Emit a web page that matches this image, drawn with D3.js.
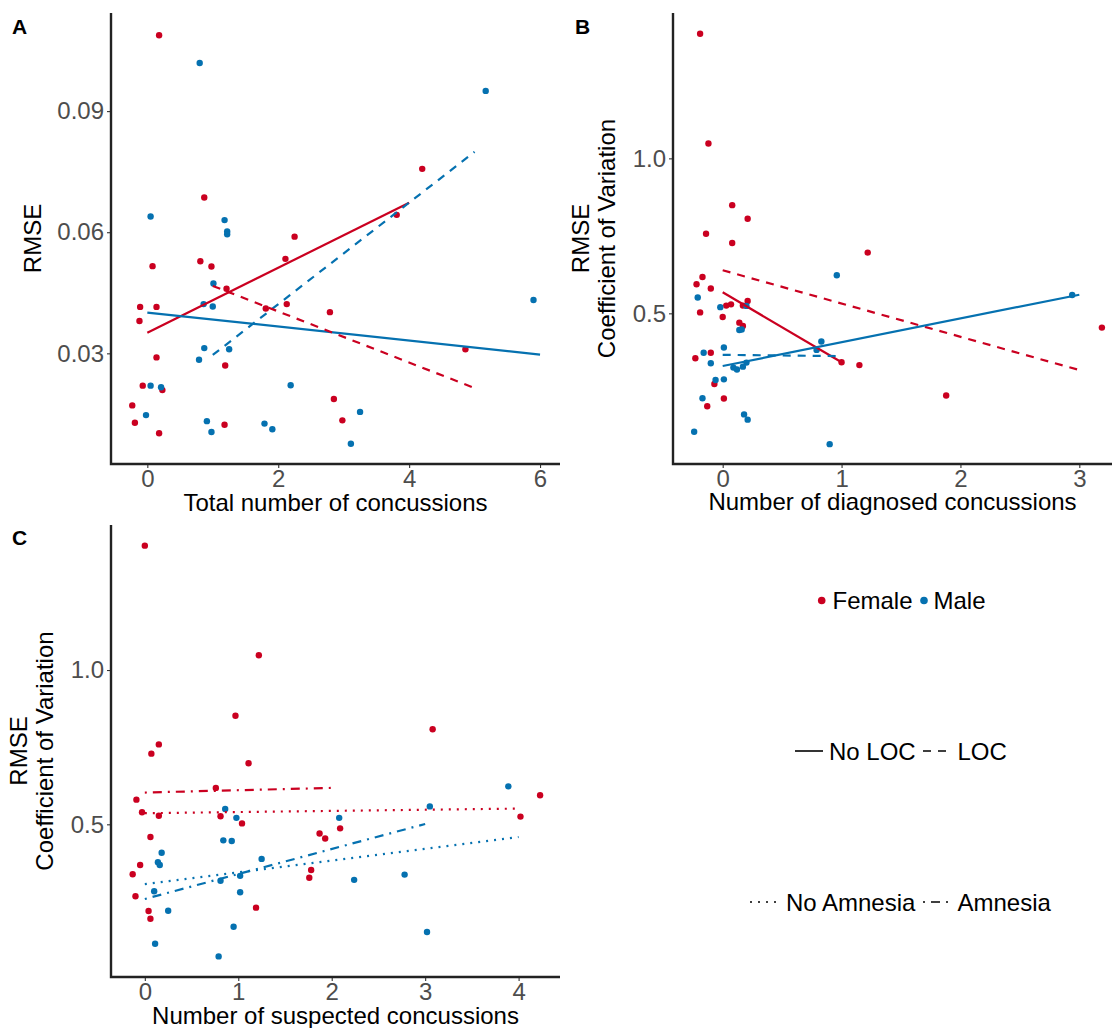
<!DOCTYPE html>
<html>
<head>
<meta charset="utf-8">
<script src="https://cdn.jsdelivr.net/npm/d3@7"></script>
<style>
  body { margin: 0; background: #fff; }
  svg text { font-family: "Liberation Sans", Arial, sans-serif; }
</style>
</head>
<body>
<svg id="fig" width="1112" height="1028"></svg>
<script>
// ---- colours ----
const SEX_COLOR = { Female: "#CA0020", Male: "#0571B0" };

// ---- Panel A: RMSE vs total number of concussions ----
const A_FEMALE = [
  [0.18, 0.1088], [0.87, 0.0686], [4.20, 0.0757], [3.81, 0.0643], [2.25, 0.0589],
  [2.11, 0.0534], [0.81, 0.0528], [0.08, 0.0516], [0.98, 0.0515], [1.21, 0.0460],
  [-0.11, 0.0415], [0.14, 0.0415], [1.81, 0.0411], [2.13, 0.0422], [2.79, 0.0402],
  [-0.12, 0.0380], [0.14, 0.0290], [4.86, 0.0310], [1.19, 0.0270], [-0.07, 0.0220],
  [0.23, 0.0209], [-0.23, 0.0171], [2.85, 0.0187], [-0.19, 0.0128], [2.98, 0.0134],
  [1.18, 0.0123], [0.18, 0.0102]
];
const A_MALE = [
  [0.80, 0.1019], [5.17, 0.0950], [0.05, 0.0639], [1.18, 0.0630], [1.22, 0.0602],
  [1.22, 0.0595], [1.01, 0.0473], [0.86, 0.0422], [1.00, 0.0416], [5.90, 0.0432],
  [0.87, 0.0313], [1.25, 0.0310], [0.79, 0.0284], [0.05, 0.0220], [0.21, 0.0216],
  [2.19, 0.0221], [-0.02, 0.0147], [3.25, 0.0155], [0.91, 0.0132], [0.98, 0.0105],
  [1.79, 0.0126], [1.91, 0.0112], [3.11, 0.0076]
];
const A_FITS = [
  { sex: "Female", type: "solid",  x: [0, 4], y: [0.0351, 0.0673] },
  { sex: "Male",   type: "solid",  x: [0, 6], y: [0.0401, 0.0297] },
  { sex: "Male",   type: "dashed", x: [1, 5], y: [0.0296, 0.0799] },
  { sex: "Female", type: "dashed", x: [1, 5], y: [0.0467, 0.0214] }
];
const A_XTICKS = [0, 2, 4, 6];
const A_YTICKS = [0.03, 0.06, 0.09];

// ---- Panel B: CV vs diagnosed concussions ----
const B_FEMALE = [
  [-0.19, 1.402], [-0.12, 1.048], [-0.14, 0.757], [0.08, 0.849], [0.21, 0.805],
  [0.08, 0.727], [1.22, 0.696], [-0.17, 0.617], [-0.22, 0.594], [-0.10, 0.580],
  [0.21, 0.540], [0.03, 0.525], [0.07, 0.529], [0.17, 0.525], [-0.19, 0.503],
  [0.00, 0.488], [0.14, 0.470], [0.17, 0.459], [3.19, 0.454], [-0.10, 0.373],
  [-0.23, 0.355], [1.00, 0.342], [1.15, 0.333], [-0.07, 0.272], [0.01, 0.225],
  [1.88, 0.235], [-0.13, 0.200]
];
const B_MALE = [
  [0.96, 0.623], [-0.21, 0.551], [2.94, 0.559], [-0.02, 0.520], [0.20, 0.524],
  [0.16, 0.448], [0.14, 0.446], [0.83, 0.409], [0.01, 0.390], [-0.16, 0.373],
  [0.79, 0.382], [-0.10, 0.339], [0.20, 0.341], [0.09, 0.325], [0.12, 0.319],
  [0.17, 0.328], [0.01, 0.287], [-0.06, 0.285], [-0.17, 0.226], [0.18, 0.174],
  [0.21, 0.157], [-0.24, 0.118], [0.90, 0.078]
];
const B_FITS = [
  { sex: "Female", type: "solid",  x: [0, 1], y: [0.568, 0.342] },
  { sex: "Female", type: "dashed", x: [0, 3], y: [0.639, 0.317] },
  { sex: "Male",   type: "solid",  x: [0, 3], y: [0.330, 0.560] },
  { sex: "Male",   type: "dashed", x: [0, 1], y: [0.366, 0.362] }
];
const B_XTICKS = [0, 1, 2, 3];
const B_YTICKS = [0.5, 1.0];

// ---- Panel C: CV vs suspected concussions ----
const C_FEMALE = [
  [0.00, 1.403], [1.22, 1.048], [0.97, 0.852], [3.08, 0.808], [0.15, 0.759],
  [0.07, 0.729], [1.11, 0.698], [0.76, 0.618], [4.23, 0.594], [-0.09, 0.580],
  [-0.03, 0.539], [0.15, 0.528], [0.81, 0.526], [4.02, 0.525], [1.04, 0.503],
  [2.09, 0.487], [1.87, 0.470], [1.93, 0.454], [0.06, 0.459], [-0.05, 0.368],
  [-0.13, 0.338], [1.78, 0.352], [1.76, 0.327], [-0.10, 0.267], [1.19, 0.230],
  [0.04, 0.219], [0.06, 0.194]
];
const C_MALE = [
  [3.89, 0.623], [3.05, 0.558], [0.86, 0.550], [0.98, 0.521], [2.08, 0.521],
  [0.84, 0.448], [0.93, 0.446], [0.18, 0.408], [0.14, 0.377], [0.16, 0.368],
  [1.25, 0.388], [2.78, 0.337], [1.02, 0.333], [0.81, 0.317], [2.24, 0.320],
  [0.10, 0.283], [1.02, 0.280], [0.25, 0.220], [0.95, 0.168], [3.02, 0.151],
  [0.11, 0.113], [0.79, 0.072]
];
const C_FITS = [
  { sex: "Female", type: "dotdash", x: [0, 2], y: [0.603, 0.618] },
  { sex: "Female", type: "dotted",  x: [0, 4], y: [0.536, 0.551] },
  { sex: "Male",   type: "dotdash", x: [0, 3], y: [0.258, 0.501] },
  { sex: "Male",   type: "dotted",  x: [0, 4], y: [0.306, 0.459] }
];
const C_XTICKS = [0, 1, 2, 3, 4];
const C_YTICKS = [0.5, 1.0];

// ---- legends ----
const SEX_LABELS = ["Female", "Male"];
const LOC_LABELS = ["No LOC", "LOC"];
const AMNESIA_LABELS = ["No Amnesia", "Amnesia"];

const DASH = {
  solid: null,
  dashed: "8,7",
  dotted: "2,6",
  dotdash: "2,6,9,6"
};

const svg = d3.select("#fig");

function drawPanel(p) {
  const g = svg.append("g");
  const x = d3.scaleLinear().domain(p.xDomain).range([p.left, p.right]);
  const y = d3.scaleLinear().domain(p.yDomain).range([p.bottom, p.top]);

  // axes
  const xAxis = g.append("g")
    .attr("transform", `translate(0,${p.bottom})`)
    .call(d3.axisBottom(x).tickValues(p.xTicks).tickSize(4).tickSizeOuter(0)
      .tickPadding(2).tickFormat(d3.format("d")));
  const yAxis = g.append("g")
    .attr("transform", `translate(${p.left},0)`)
    .call(d3.axisLeft(y).tickValues(p.yTicks).tickSize(4).tickSizeOuter(0)
      .tickPadding(3).tickFormat(d3.format(p.yFormat)));

  [xAxis, yAxis].forEach(a => {
    a.select(".domain").remove();
    a.selectAll(".tick line").attr("stroke", "#333").attr("stroke-width", 1.1);
    a.selectAll(".tick text")
      .attr("fill", "#4D4D4D")
      .style("font-size", "24px");
  });

  g.append("path")
    .attr("d", `M${p.left},${p.top}V${p.bottom}H${p.right}`)
    .attr("fill", "none")
    .attr("stroke", "#222")
    .attr("stroke-width", 2.4)
    .attr("stroke-linejoin", "miter")
    .attr("stroke-linecap", "butt");

  // points
  const pts = p.female.map(d => ({ x: d[0], y: d[1], sex: "Female" }))
    .concat(p.male.map(d => ({ x: d[0], y: d[1], sex: "Male" })));
  g.selectAll("circle.pt")
    .data(pts)
    .enter()
    .append("circle")
    .attr("class", "pt")
    .attr("cx", d => x(d.x))
    .attr("cy", d => y(d.y))
    .attr("r", 3.2)
    .attr("fill", d => SEX_COLOR[d.sex]);

  // fitted lines
  g.selectAll("line.fit")
    .data(p.fits)
    .enter()
    .append("line")
    .attr("class", "fit")
    .attr("x1", d => x(d.x[0]))
    .attr("x2", d => x(d.x[1]))
    .attr("y1", d => y(d.y[0]))
    .attr("y2", d => y(d.y[1]))
    .attr("stroke", d => SEX_COLOR[d.sex])
    .attr("stroke-width", 2.2)
    .attr("stroke-dasharray", d => DASH[d.type]);

  // titles
  g.append("text")
    .attr("x", (p.left + p.right) / 2)
    .attr("y", p.xTitleY)
    .attr("text-anchor", "middle")
    .attr("fill", "#000")
    .style("font-size", "24px")
    .text(p.xTitle);

  const yt = g.append("text")
    .attr("transform", `translate(${p.yTitleX},${(p.top + p.bottom) / 2}) rotate(-90)`)
    .attr("text-anchor", "middle")
    .attr("fill", "#000")
    .style("font-size", "24px");
  p.yTitle.forEach((line, i) => {
    yt.append("tspan")
      .attr("x", 0)
      .attr("y", (i - (p.yTitle.length - 1)) * 26)
      .text(line);
  });

  g.append("text")
    .attr("x", p.tagX)
    .attr("y", p.tagY)
    .attr("fill", "#000")
    .attr("font-weight", "bold")
    .style("font-size", "21px")
    .text(p.tag);
}

drawPanel({
  tag: "A", tagX: 12, tagY: 34,
  left: 111, right: 560, top: 13, bottom: 464,
  xDomain: [-0.555, 6.305], yDomain: [0.00259, 0.1143],
  xTicks: A_XTICKS, yTicks: A_YTICKS, yFormat: ".2f",
  female: A_FEMALE, male: A_MALE, fits: A_FITS,
  xTitle: "Total number of concussions", xTitleY: 511,
  yTitle: ["RMSE"], yTitleX: 41
});

drawPanel({
  tag: "B", tagX: 575, tagY: 34,
  left: 673, right: 1112, top: 13, bottom: 464,
  xDomain: [-0.418, 3.275], yDomain: [0.0139, 1.469],
  xTicks: B_XTICKS, yTicks: B_YTICKS, yFormat: ".1f",
  female: B_FEMALE, male: B_MALE, fits: B_FITS,
  xTitle: "Number of diagnosed concussions", xTitleY: 510,
  yTitle: ["RMSE", "Coefficient of Variation"], yTitleX: 615
});

drawPanel({
  tag: "C", tagX: 12, tagY: 545,
  left: 111, right: 560, top: 525, bottom: 977,
  xDomain: [-0.362, 4.443], yDomain: [0.0052, 1.47],
  xTicks: C_XTICKS, yTicks: C_YTICKS, yFormat: ".1f",
  female: C_FEMALE, male: C_MALE, fits: C_FITS,
  xTitle: "Number of suspected concussions", xTitleY: 1024,
  yTitle: ["RMSE", "Coefficient of Variation"], yTitleX: 53
});

// ---- legends ----
const leg = svg.append("g").style("font-size", "24px").attr("fill", "#000");

// sex
const sexPos = [{ dot: 821.7, text: 832.5 }, { dot: 924, text: 933.5 }];
SEX_LABELS.forEach((lab, i) => {
  leg.append("circle").attr("cx", sexPos[i].dot).attr("cy", 600.5).attr("r", 3.8)
    .attr("fill", SEX_COLOR[lab]);
  leg.append("text").attr("x", sexPos[i].text).attr("y", 609).text(lab);
});

// line-type keys
function lineKey(labels, types, pos, cy, base) {
  labels.forEach((lab, i) => {
    leg.append("line")
      .attr("x1", pos[i].x1).attr("x2", pos[i].x2)
      .attr("y1", cy).attr("y2", cy)
      .attr("stroke", "#000").attr("stroke-width", 1.6)
      .attr("stroke-dasharray", DASH[types[i]]);
    leg.append("text").attr("x", pos[i].text).attr("y", base).text(lab);
  });
}
lineKey(LOC_LABELS, ["solid", "dashed"],
  [{ x1: 795, x2: 823, text: 829 }, { x1: 923, x2: 951, text: 957.5 }], 751, 760);
lineKey(AMNESIA_LABELS, ["dotted", "dotdash"],
  [{ x1: 750, x2: 781, text: 786 }, { x1: 923, x2: 953, text: 957.5 }], 902, 910.5);
</script>
</body>
</html>
